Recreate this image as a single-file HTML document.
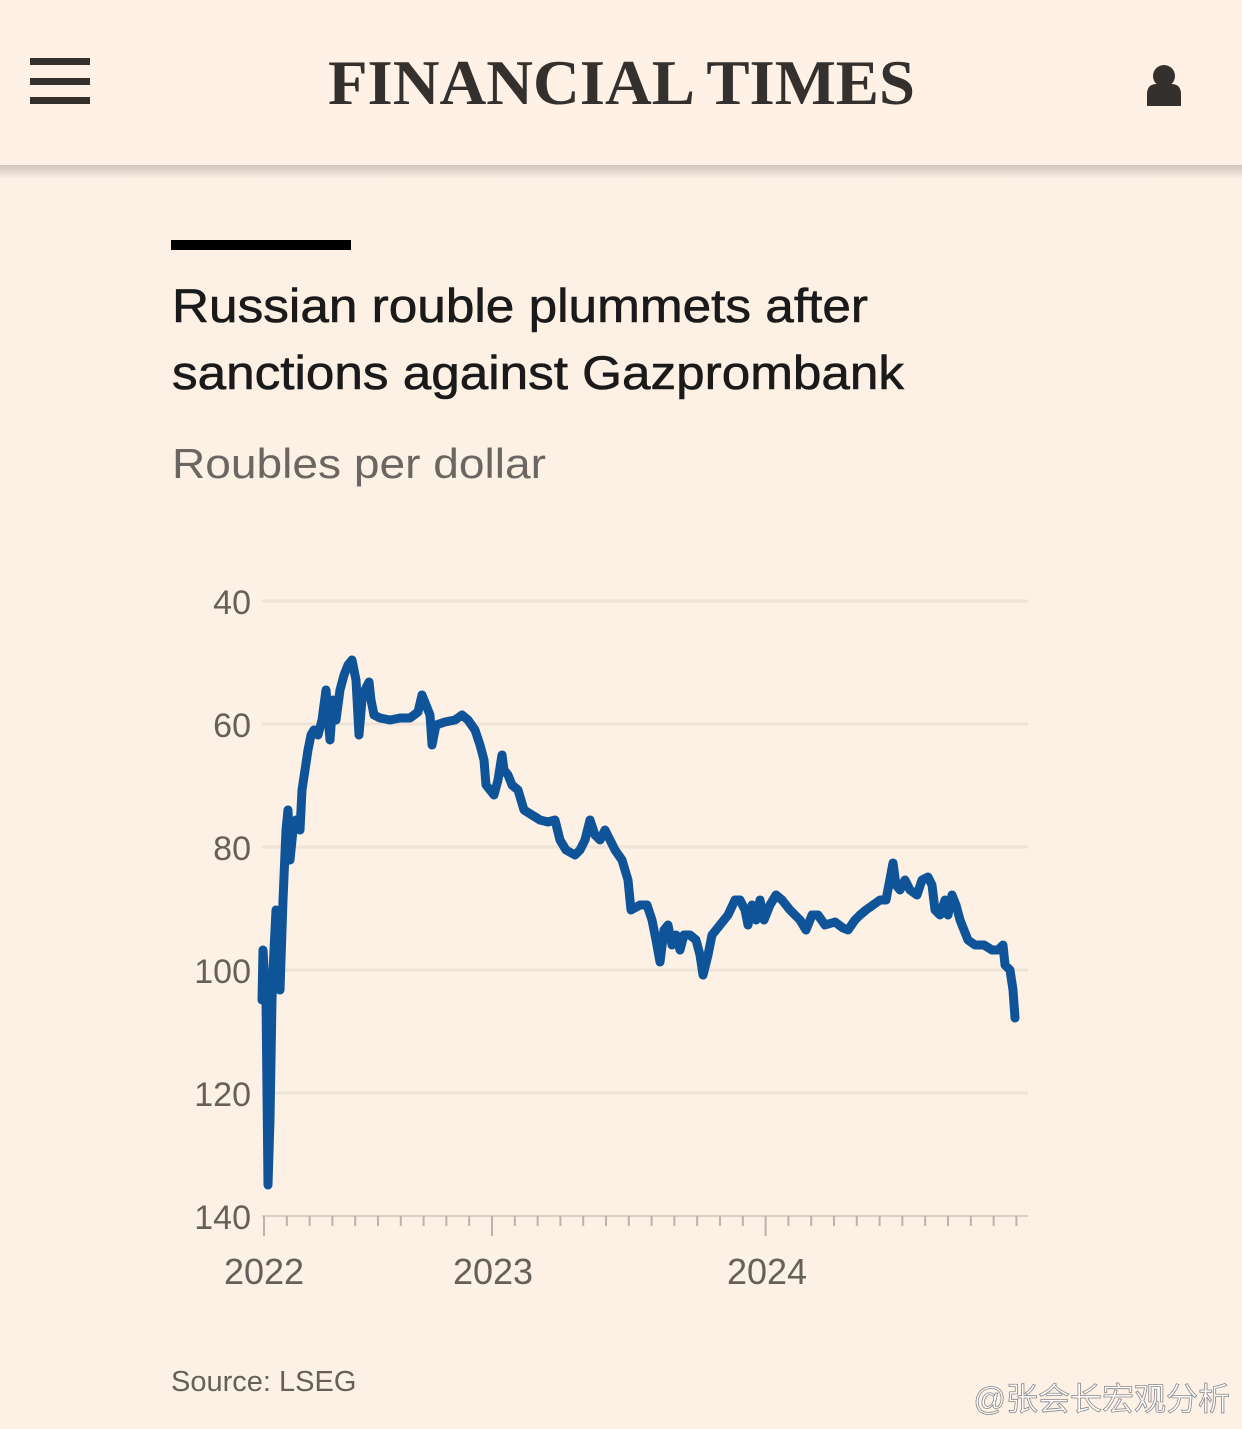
<!DOCTYPE html>
<html><head><meta charset="utf-8"><style>
html,body{margin:0;padding:0;background:#fdf1e6;}
svg{display:block}
</style></head><body>
<svg width="1242" height="1429" viewBox="0 0 1242 1429" xmlns="http://www.w3.org/2000/svg">
<defs><linearGradient id="sh" x1="0" y1="0" x2="0" y2="1"><stop offset="0" stop-color="#000" stop-opacity="0.18"/><stop offset="1" stop-color="#000" stop-opacity="0"/></linearGradient></defs>
<rect width="1242" height="1429" fill="#fdf1e6"/>
<rect x="0" y="0" width="1242" height="165" fill="#fff1e5"/>
<rect x="0" y="165" width="1242" height="14" fill="url(#sh)"/>
<g fill="#33302e"><rect x="30" y="58" width="60" height="7"/><rect x="30" y="78" width="60" height="7"/><rect x="30" y="97" width="60" height="7"/>
<circle cx="1164" cy="76" r="11"/><path d="M1147 106 v-12 q0-10 10-10 h14 q10 0 10 10 v12z"/></g>
<text x="328" y="104" font-family="Liberation Serif, serif" font-weight="bold" font-size="64" fill="#33302e" textLength="587" lengthAdjust="spacingAndGlyphs">FINANCIAL TIMES</text>
<rect x="171" y="240" width="180" height="10" fill="#000"/>
<text font-family="Liberation Sans, sans-serif" font-size="47" fill="#1a1a1a" stroke="#1a1a1a" stroke-width="0.6"><tspan x="172" y="322" textLength="696" lengthAdjust="spacingAndGlyphs">Russian rouble plummets after</tspan><tspan x="172" y="389" textLength="732" lengthAdjust="spacingAndGlyphs">sanctions against Gazprombank</tspan></text>
<text x="172" y="478" font-family="Liberation Sans, sans-serif" font-size="42" fill="#6b6661" textLength="374" lengthAdjust="spacingAndGlyphs">Roubles per dollar</text>
<g stroke="#efe3d7" stroke-width="3">
<line x1="262" y1="601" x2="1028" y2="601"/><line x1="262" y1="724" x2="1028" y2="724"/><line x1="262" y1="847" x2="1028" y2="847"/><line x1="262" y1="970" x2="1028" y2="970"/><line x1="262" y1="1093" x2="1028" y2="1093"/></g>
<line x1="262" y1="1216" x2="1028" y2="1216" stroke="#d9cfc5" stroke-width="2"/>
<g font-family="Liberation Sans, sans-serif" font-size="34" fill="#66605b" text-anchor="end">
<text x="251" y="614">40</text><text x="251" y="737">60</text><text x="251" y="860">80</text><text x="251" y="983">100</text><text x="251" y="1106">120</text><text x="251" y="1229">140</text></g>
<g stroke="#bdb3aa" stroke-width="2" id="ticks"></g>
<g font-family="Liberation Sans, sans-serif" font-size="36" fill="#66605b" text-anchor="middle">
<text x="264" y="1284">2022</text><text x="493" y="1284">2023</text><text x="767" y="1284">2024</text></g>
<polyline fill="none" stroke="#0f5499" stroke-width="9" stroke-linejoin="round" stroke-linecap="round" points="262,1000 263,950 266,1000 268,1185 270,1120 272,1000 274,950 276,910 278,950 280,990 283,900 286,830 288,810 290,860 293,830 296,820 300,830 302,790 305,770 308,750 311,735 314,730 318,735 322,720 326,690 330,740 333,700 336,720 340,690 344,675 348,665 352,660 356,680 359,735 362,700 365,690 369,682 371,700 374,715 380,718 390,720 400,718 410,718 418,712 422,695 426,705 430,715 432,745 436,725 445,722 455,720 462,715 468,720 475,730 480,745 484,760 486,785 490,790 494,795 498,780 502,755 504,770 508,775 512,785 518,790 524,810 532,815 540,820 548,822 555,820 560,840 566,850 575,855 580,850 585,840 590,820 595,835 600,840 605,830 610,840 615,850 622,860 628,880 631,910 640,905 647,905 652,920 656,940 660,962 664,930 668,925 672,945 676,935 680,950 684,935 690,935 696,940 700,955 703,975 708,955 712,935 720,925 728,915 735,900 740,900 745,910 748,925 752,905 756,920 760,900 764,920 770,905 776,895 782,900 790,910 800,920 806,930 812,915 818,915 825,925 835,922 843,928 848,930 855,920 860,915 866,910 873,905 880,900 886,900 893,863 896,885 900,890 905,880 910,890 917,895 922,880 928,877 932,885 935,910 940,915 945,900 948,915 952,895 956,905 960,920 964,930 968,940 975,945 984,945 992,950 998,950 1003,945 1005,965 1010,970 1013,990 1015,1018"/>
<text x="171" y="1391" font-family="Liberation Sans, sans-serif" font-size="29" fill="#66605b">Source: LSEG</text>
<text x="1230" y="1410" font-family="Liberation Sans, 'Noto Sans CJK SC', sans-serif" font-size="32" fill="#ffffff" stroke="#888" stroke-width="0.8" text-anchor="end">@张会长宏观分析</text>
</svg>
<script>
var g=document.getElementById('ticks'),s='';
var xs=[264,493,767];
for(var i=0;i<34;i++){var x=264+i*22.8;if(x>1028)break;var big=xs.some(function(v){return Math.abs(v-x)<8});s+='<line x1="'+x+'" y1="1216" x2="'+x+'" y2="'+(big?1236:1226)+'"/>';}
g.innerHTML=s;
</script>
</body></html>
